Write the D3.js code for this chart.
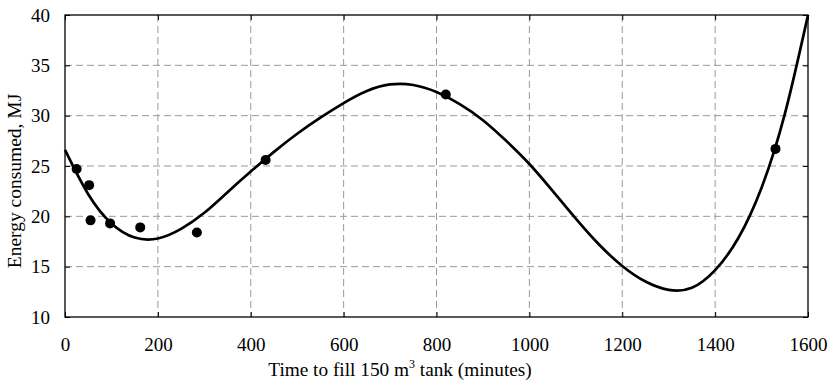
<!DOCTYPE html>
<html>
<head>
<meta charset="utf-8">
<script src="https://cdn.jsdelivr.net/npm/d3@7"></script>
<style>
  body { margin: 0; background: #fff; }
  svg text { font-family: "Liberation Serif", "Times New Roman", serif; fill: #000; }
</style>
</head>
<body>
<svg id="chart" width="834" height="386"></svg>
<script>
// measured points
const timeMin = [25, 52, 55, 97, 162, 284, 432, 820, 1530];
const energyMJ = [24.7, 23.1, 19.6, 19.3, 18.9, 18.4, 25.6, 32.1, 26.7];

// fitted trend line, every 50 minutes
const fitX = [0, 50, 100, 150, 200, 250, 300, 350, 400, 450, 500, 550, 600, 650, 700, 750, 800,
              850, 900, 950, 1000, 1050, 1100, 1150, 1200, 1250, 1300, 1350, 1400, 1450, 1500, 1550, 1600];
const fitY = [26.6, 22.2, 19.3, 17.9, 17.8, 18.75, 20.35, 22.4, 24.45, 26.4, 28.2, 29.8, 31.25, 32.45, 33.1, 33.05, 32.35,
              31.15, 29.55, 27.5, 25.2, 22.53, 19.77, 17.2, 15.07, 13.52, 12.7, 12.9, 14.65, 17.85, 22.85, 30.15, 40];

const xTicks = [0, 200, 400, 600, 800, 1000, 1200, 1400, 1600];
const yTicks = [10, 15, 20, 25, 30, 35, 40];

const margin = { left: 65, right: 26, top: 15, bottom: 69 };
const width = 834, height = 386;

const svg = d3.select("#chart");
const x = d3.scaleLinear().domain([0, 1600]).range([margin.left, width - margin.right]);
const y = d3.scaleLinear().domain([10, 40]).range([height - margin.bottom, margin.top]);

// grid
const grid = svg.append("g")
    .attr("stroke", "#9a9a9a")
    .attr("stroke-width", 1)
    .attr("stroke-dasharray", "7,4");
grid.selectAll("line.v")
    .data(xTicks.slice(1, -1))
    .join("line")
    .attr("class", "v")
    .attr("x1", d => x(d)).attr("x2", d => x(d))
    .attr("y1", y(40)).attr("y2", y(10));
grid.selectAll("line.h")
    .data(yTicks.slice(1, -1))
    .join("line")
    .attr("class", "h")
    .attr("x1", x(0)).attr("x2", x(1600))
    .attr("y1", d => y(d)).attr("y2", d => y(d));

// axes, ticks pointing inward
const tickLen = 5;
const fmt = d3.format("d");
svg.append("g")
    .attr("transform", `translate(0,${y(10)})`)
    .call(d3.axisBottom(x).tickValues(xTicks).tickFormat(fmt).tickSizeInner(-tickLen).tickSizeOuter(0).tickPadding(21))
    .call(g => g.select(".domain").remove())
    .call(g => g.selectAll("text").attr("font-size", 19).attr("font-family", "Liberation Serif"));
svg.append("g")
    .attr("transform", `translate(0,${y(40)})`)
    .call(d3.axisTop(x).tickValues(xTicks).tickSizeInner(-tickLen).tickSizeOuter(0).tickFormat(""))
    .call(g => g.select(".domain").remove());
svg.append("g")
    .attr("transform", `translate(${x(0)},0)`)
    .call(d3.axisLeft(y).tickValues(yTicks).tickFormat(fmt).tickSizeInner(-tickLen).tickSizeOuter(0).tickPadding(15))
    .call(g => g.select(".domain").remove())
    .call(g => g.selectAll("text").attr("font-size", 19).attr("font-family", "Liberation Serif"));
svg.append("g")
    .attr("transform", `translate(${x(1600)},0)`)
    .call(d3.axisRight(y).tickValues(yTicks).tickSizeInner(-tickLen).tickSizeOuter(0).tickFormat(""))
    .call(g => g.select(".domain").remove());

// frame
svg.append("rect")
    .attr("x", x(0)).attr("y", y(40))
    .attr("width", x(1600) - x(0)).attr("height", y(10) - y(40))
    .attr("fill", "none").attr("stroke", "#000").attr("stroke-width", 1.3);

// trend line
const line = d3.line()
    .x(d => x(d[0]))
    .y(d => y(d[1]))
    .curve(d3.curveNatural);
svg.append("path")
    .datum(d3.zip(fitX, fitY))
    .attr("d", line)
    .attr("fill", "none")
    .attr("stroke", "#000")
    .attr("stroke-width", 2.7);

// points
svg.append("g")
    .selectAll("circle")
    .data(d3.zip(timeMin, energyMJ))
    .join("circle")
    .attr("cx", d => x(d[0]))
    .attr("cy", d => y(d[1]))
    .attr("r", 5)
    .attr("fill", "#000");

// axis titles
const xt = svg.append("text")
    .attr("x", 400).attr("y", 376)
    .attr("text-anchor", "middle")
    .attr("font-size", 19.3);
xt.append("tspan").text("Time to fill 150 m");
xt.append("tspan").attr("font-size", 12).attr("dy", -8).text("3");
xt.append("tspan").attr("dy", 8).text(" tank (minutes)");

svg.append("text")
    .attr("transform", "translate(21,181) rotate(-90)")
    .attr("text-anchor", "middle")
    .attr("font-size", 19.5)
    .text("Energy consumed, MJ");
</script>
</body>
</html>
